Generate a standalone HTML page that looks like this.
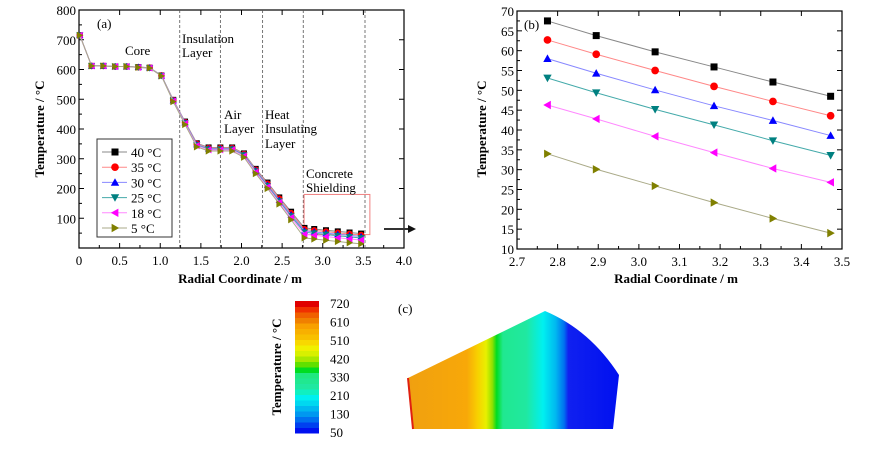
<!DOCTYPE html>
<html><head><meta charset="utf-8"><style>
body{margin:0;background:#fff;width:879px;height:447px;overflow:hidden}
svg text{font-family:"Liberation Serif",serif}
</style></head><body>
<svg id="fig" width="879" height="447" viewBox="0 0 879 447" xmlns="http://www.w3.org/2000/svg">
<defs>
<linearGradient id="fieldGrad" x1="408" x2="619" y1="0" y2="0" gradientUnits="userSpaceOnUse">
<stop offset="0" stop-color="#f0a010"/><stop offset="0.28" stop-color="#f8a808"/><stop offset="0.33" stop-color="#f8d000"/><stop offset="0.37" stop-color="#e8f000"/><stop offset="0.4" stop-color="#90e000"/><stop offset="0.42" stop-color="#00dd20"/><stop offset="0.45" stop-color="#20e890"/><stop offset="0.56" stop-color="#20e8a0"/><stop offset="0.64" stop-color="#00f0f0"/><stop offset="0.7" stop-color="#00b8f0"/><stop offset="0.74" stop-color="#0070f0"/><stop offset="0.76" stop-color="#1020f0"/><stop offset="1" stop-color="#0010f0"/>
</linearGradient>
</defs>
<g id="pa"></g>
<g id="pb"></g>
<g id="pc">
<path d="M408,378 L545,311 Q590,330 619,375 L613,429 L413,429 Z" fill="url(#fieldGrad)"/>
<path d="M408,378 L413,429" stroke="#e02010" stroke-width="2"/>
<text x="398" y="313" font-size="13">(c)</text>
</g>
<g id="cb"></g>
<g>
<line x1="384" y1="229" x2="408" y2="229" stroke="#333" stroke-width="2"/>
<polygon points="408,225 416,229 408,233" fill="#111"/>
</g>
</svg>
<script>
const NS='http://www.w3.org/2000/svg';
const xA=[0.01,0.155,0.3,0.445,0.585,0.73,0.87,1.015,1.16,1.305,1.45,1.595,1.74,1.885,2.03,2.175,2.32,2.465,2.61,2.775,2.895,3.04,3.185,3.33,3.472];
const s40=[715,612,612,610,610,608,606,580,498,425,352,338,338,338,318,266,220,170,122,67.5,63.8,59.7,55.9,52.1,48.5];
const s35=[715,612,612,610,610,608,606,580,497,423,350,336,336,336,316,263,216,166,117,62.7,59.1,55,51,47.2,43.6];
const s30=[715,612,612,610,610,608,606,579,496,422,348,334,334,334,314,261,212,161,112,58,54.3,50.1,46.1,42.4,38.6];
const s25=[715,612,612,610,610,607,605,579,495,420,346,332,332,332,312,258,209,157,107,53.1,49.4,45.2,41.3,37.3,33.6];
const s18=[715,612,612,610,610,607,605,578,494,418,344,330,330,330,309,255,205,153,102,46.3,42.8,38.4,34.3,30.3,26.8];
const s5=[715,612,612,610,610,607,605,578,492,415,340,326,326,326,305,250,200,148,95,34,30.1,25.9,21.7,17.7,14];
const seriesNames=['40 °C','35 °C','30 °C','25 °C','18 °C','5 °C'];
const xTicksA=[0,0.5,1.0,1.5,2.0,2.5,3.0,3.5,4.0];
const yTicksA=[100,200,300,400,500,600,700,800];
const dividers=[1.24,1.74,2.26,2.76,3.52];
const xB=[2.775,2.895,3.04,3.185,3.33,3.472];
const xTicksB=[2.7,2.8,2.9,3.0,3.1,3.2,3.3,3.4,3.5];
const yTicksB=[10,15,20,25,30,35,40,45,50,55,60,65,70];
const cbLabels=[720,610,510,420,330,210,130,50];
const cbColors=['#0010f0','#0040f0','#0070f0','#0098f0','#00b8f0','#00d8f0','#00f0f0','#10f0c0','#20e8a0','#20e890','#20e880','#00dd20','#60e000','#a8e800','#d8f000','#f0f000','#f8d800','#f8c000','#f8b000','#f8a000','#f08000','#f06000','#f03000','#e00000'];
const colors=['#000','#f00','#00f','#008080','#ff00ff','#808000'];
const lineCols=['#888','#f88','#88f','#4aa','#f8f','#aa8'];
const markers=['sq','ci','tu','td','tl','tr'];
function el(p,t,a,txt){const e=document.createElementNS(NS,t);for(const k in a)e.setAttribute(k,a[k]);if(txt!==undefined)e.textContent=txt;p.appendChild(e);return e;}
function marker(g,type,x,y,r,c){let e;
 if(type==='sq')e=el(g,'rect',{x:x-r,y:y-r,width:2*r,height:2*r,fill:c});
 else if(type==='ci')e=el(g,'circle',{cx:x,cy:y,r:r*1.1,fill:c});
 else{let p;const k=r*1.2;
  if(type==='tu')p=[[x,y-k],[x-k,y+k*0.8],[x+k,y+k*0.8]];
  if(type==='td')p=[[x,y+k],[x-k,y-k*0.8],[x+k,y-k*0.8]];
  if(type==='tl')p=[[x-k,y],[x+k*0.8,y-k],[x+k*0.8,y+k]];
  if(type==='tr')p=[[x+k,y],[x-k*0.8,y-k],[x-k*0.8,y+k]];
  e=el(g,'polygon',{points:p.map(q=>q.join(',')).join(' '),fill:c});}
 
 
 return e;}
function panel(g,L,R,T,B,x0,x1,y0,y1,xt,yt,xfmt,yfmt,minorX,minorY){
 const sx=v=>L+(v-x0)/(x1-x0)*(R-L), sy=v=>B-(v-y0)/(y1-y0)*(B-T);
 const fr=el(g,'rect',{x:L,y:T,width:R-L,height:B-T,fill:'none',stroke:'#000','stroke-width':1.2});
 
 
 xt.forEach(v=>{const x=sx(v);el(g,'line',{x1:x,x2:x,y1:B,y2:B-5,stroke:'#000'});el(g,'line',{x1:x,x2:x,y1:T,y2:T+5,stroke:'#000'});
  const t=el(g,'text',{x:x,y:B+17,'font-size':13,'text-anchor':'middle'},xfmt(v));
  
  });
 for(let v=x0+minorX;v<x1;v+=minorX*2){const x=sx(v);el(g,'line',{x1:x,x2:x,y1:B,y2:B-3,stroke:'#000'});}
 yt.forEach(v=>{const y=sy(v);el(g,'line',{x1:L,x2:L+5,y1:y,y2:y,stroke:'#000'});el(g,'line',{x1:R,x2:R-5,y1:y,y2:y,stroke:'#000'});
  const t=el(g,'text',{x:L-3,y:y+5,'font-size':13,'text-anchor':'end'},yfmt(v));
  
  });
 for(let v=y0+minorY;v<y1;v+=minorY*2){const y=sy(v);el(g,'line',{x1:L,x2:L+3,y1:y,y2:y,stroke:'#000'});}
 return [sx,sy];}
// Panel A
const ga=document.getElementById('pa');
const [ax,ay]=panel(ga,79,404,10,248,0,4,0,800,xTicksA,yTicksA,v=>v===0?'0':v.toFixed(1),v=>String(v),0.25,50);
el(ga,'text',{x:83,y:253,'font-size':13,'text-anchor':'middle'},'');
dividers.forEach(d=>{const l=el(ga,'line',{x1:ax(d),x2:ax(d),y1:10,y2:248,stroke:'#555','stroke-dasharray':'3,2','stroke-width':0.8});
 
 });
const zb=el(ga,'rect',{x:ax(2.77),y:ay(180),width:ax(3.58)-ax(2.77),height:ay(45)-ay(180),fill:'none',stroke:'#f08080','stroke-width':1});


const seriesA=[s40,s35,s30,s25,s18,s5];
seriesA.forEach((s,i)=>{const sg=el(ga,'g',{});
 
 
 el(sg,'polyline',{points:s.map((v,j)=>ax(xA[j])+','+ay(v)).join(' '),fill:'none',stroke:lineCols[i],'stroke-width':1});
 s.forEach((v,j)=>marker(sg,markers[i],ax(xA[j]),ay(v),3,colors[i]));});
[['(a)',97,28],['Core',125,55],['Insulation',182,43],['Layer',182,57],['Air',224,119],['Layer',224,133],['Heat',265,119],['Insulating',265,133],['Layer',265,148],['Concrete',306,178],['Shielding',306,192]].forEach(a=>{
 const t=el(ga,'text',{x:a[1],y:a[2],'font-size':13},a[0]);
 
 });
const lg=el(ga,'g',{});


el(lg,'rect',{x:97,y:139,width:75,height:98,fill:'#fff',stroke:'#333'});
seriesNames.forEach((n,i)=>{const y=152+i*15.2;const eg=el(lg,'g',{});
 
 
 el(eg,'line',{x1:102,x2:127,y1:y,y2:y,stroke:lineCols[i]});marker(eg,markers[i],115,y,3.5,colors[i]);
 el(eg,'text',{x:131,y:y+5,'font-size':13},n);});
let t=el(ga,'text',{x:240,y:283,'font-size':13,'font-weight':'bold','text-anchor':'middle'},'Radial Coordinate / m');

t=el(ga,'text',{x:0,y:0,'font-size':13,'font-weight':'bold','text-anchor':'middle',transform:'translate(44,129) rotate(-90)'},'Temperature / °C');

// Panel B
const gb=document.getElementById('pb');
const [bx,by]=panel(gb,517,842,11,249,2.7,3.5,10,70,xTicksB,yTicksB,v=>v.toFixed(1),v=>String(v),0.05,2.5);
const seriesB=[s40,s35,s30,s25,s18,s5].map(s=>s.slice(19));
seriesB.forEach((s,i)=>{const sg=el(gb,'g',{});
 
 
 el(sg,'polyline',{points:s.map((v,j)=>bx(xB[j])+','+by(v)).join(' '),fill:'none',stroke:lineCols[i],'stroke-width':1});
 s.forEach((v,j)=>marker(sg,markers[i],bx(xB[j]),by(v),3.5,colors[i]));});
t=el(gb,'text',{x:524,y:29,'font-size':13},'(b)');
t=el(gb,'text',{x:676,y:283,'font-size':13,'font-weight':'bold','text-anchor':'middle'},'Radial Coordinate / m');

t=el(gb,'text',{x:0,y:0,'font-size':13,'font-weight':'bold','text-anchor':'middle',transform:'translate(486,129) rotate(-90)'},'Temperature / °C');

// Colorbar
const cb=document.getElementById('cb');
const cT=301,cB=433,h=(cB-cT)/cbColors.length;
cbColors.forEach((c,i)=>{const r=el(cb,'rect',{x:295,y:cB-(i+1)*h,width:24,height:h+0.5,fill:c});
 });
cbLabels.forEach((v,i)=>{const y=304+i*(433-304)/(cbLabels.length-1);
 const tt=el(cb,'text',{x:330,y:y+4,'font-size':13},String(v));
 });
t=el(cb,'text',{x:0,y:0,'font-size':13,'font-weight':'bold','text-anchor':'middle',transform:'translate(281,367) rotate(-90)'},'Temperature / °C');

</script>
</body></html>
